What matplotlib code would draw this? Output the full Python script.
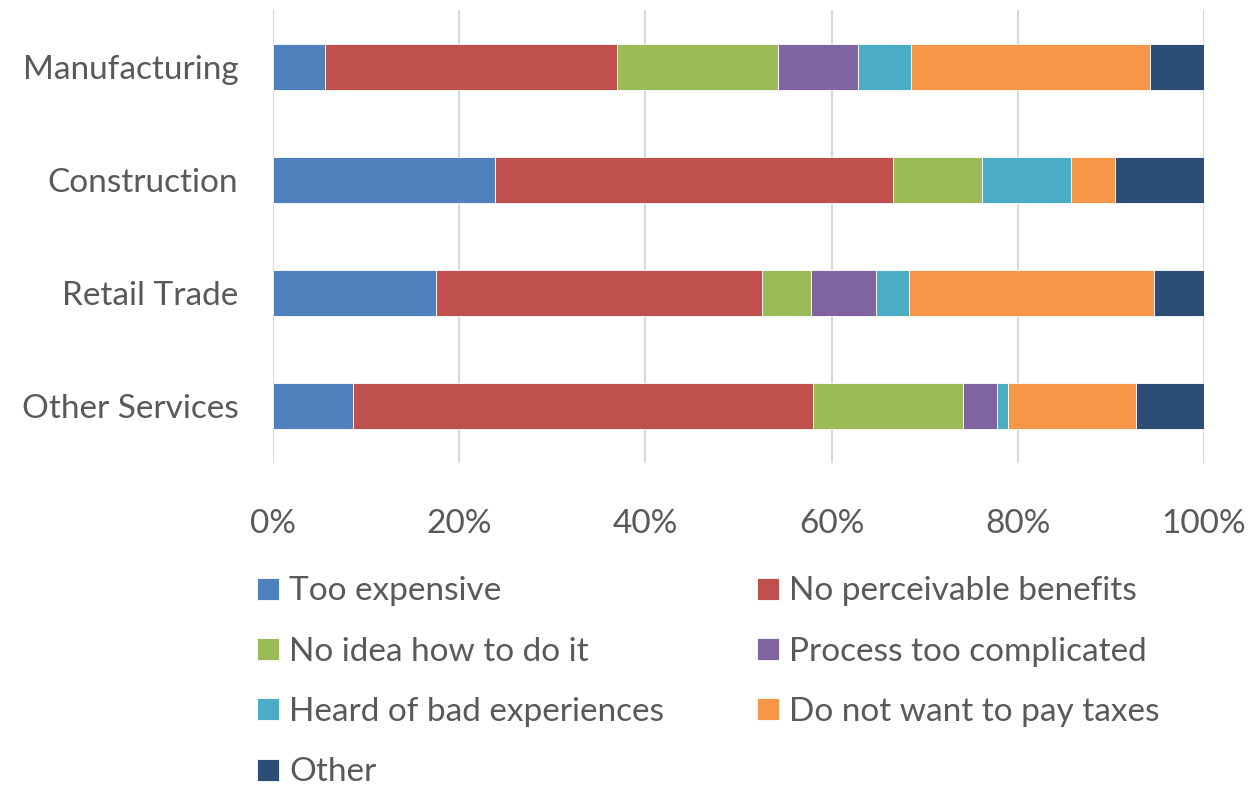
import matplotlib
matplotlib.use("Agg")
import matplotlib.pyplot as plt
import numpy as np

plt.rcParams['font.family'] = ['Lato', 'DejaVu Sans']

sectors = ["Manufacturing", "Construction", "Retail Trade", "Other Services"]
reasons = ["Too expensive", "No perceivable benefits", "No idea how to do it",
           "Process too complicated", "Heard of bad experiences",
           "Do not want to pay taxes", "Other"]

too_expensive = [5.6, 23.8, 17.5, 8.6]
no_benefits = [31.4, 42.8, 35.0, 49.4]
no_idea = [17.2, 9.6, 5.3, 16.1]
too_complicated = [8.6, 0.0, 7.0, 3.7]
bad_experiences = [5.7, 9.5, 3.5, 1.2]
no_taxes = [25.7, 4.7, 26.3, 13.7]
other = [5.8, 9.6, 5.4, 7.3]

series = [too_expensive, no_benefits, no_idea, too_complicated,
          bad_experiences, no_taxes, other]
colors = ["#4F81BD", "#C0504D", "#9BBB59", "#8064A2", "#4BACC6", "#F79646", "#2C4D75"]

text_color = "#595959"

fig = plt.figure(figsize=(12.5, 7.89), dpi=100)
ax = fig.add_axes([273 / 1250, 1 - 463 / 789, 931 / 1250, 453 / 789])

y = np.arange(len(sectors))
totals = np.array([sum(s[i] for s in series) for i in range(len(sectors))])
left = np.zeros(len(sectors))
handles = []
for vals, col, name in zip(series, colors, reasons):
    pct = np.array(vals, dtype=float) / totals * 100
    h = ax.barh(y, pct, left=left, height=0.405, color=col, label=name,
                edgecolor="white", linewidth=0.6, zorder=3)
    handles.append(h)
    left += pct

ax.set_xlim(0, 100)
ax.set_ylim(len(sectors) - 0.5, -0.5)
ax.set_xticks(np.arange(0, 101, 20))
ax.set_xticklabels([f"{t}%" for t in range(0, 101, 20)])
ax.set_yticks(y)
ax.set_yticklabels(sectors)
ax.grid(axis="x", color="#D9D9D9", linewidth=1.5, zorder=0)
for s in ax.spines.values():
    s.set_visible(False)
ax.tick_params(axis="both", length=0, labelsize=24, labelcolor=text_color)
ax.tick_params(axis="x", pad=33)
ax.tick_params(axis="y", pad=25)

order = [0, 2, 4, 6, 1, 3, 5]
leg = fig.legend([handles[i] for i in order], [reasons[i] for i in order],
                 ncol=2, loc="upper left", bbox_to_anchor=(244 / 1250, 1 - 563 / 789),
                 frameon=False, fontsize=24, handlelength=0.65, handleheight=0.65,
                 handletextpad=0.3, columnspacing=2.8, labelspacing=0.91,
                 borderaxespad=0)
for t in leg.get_texts():
    t.set_color(text_color)

fig.savefig("out.png", dpi=100, facecolor="white")
